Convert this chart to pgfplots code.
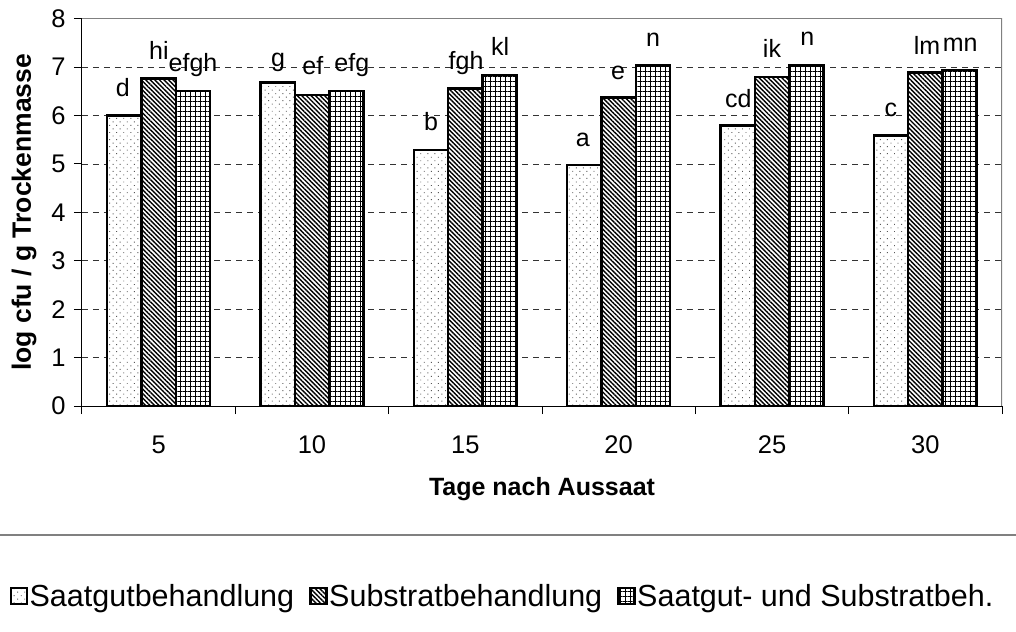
\documentclass[border=0pt]{standalone}
\usepackage{fontspec}
\setmainfont{Liberation Sans}
\usepackage{pgfplots}
\pgfplotsset{compat=1.18}
\usetikzlibrary{patterns.meta}
\definecolor{frame}{RGB}{128,128,128}

\begin{document}
\begin{tikzpicture}
\path[use as bounding box] (-82pt,-225pt) rectangle (934pt,406pt);
\begin{axis}[
  at={(0,0)}, anchor=south west,
  scale only axis, width=920pt, height=387.3pt,
  xmin=-0.5, xmax=5.5, ymin=0, ymax=8,
  axis x line*=bottom, axis y line*=left,
  axis line style={black, line width=1pt},
  tick align=outside,
  major tick length=8pt,
  tick style={black, line width=1pt},
  xtick={-0.5,0.5,...,5.5},
  x tick label as interval=true,
  xticklabels={5,10,15,20,25,30},
  ytick={0,1,...,8},
  ymajorgrids,
  grid style={black!80, line width=0.8pt, dash pattern=on 6pt off 5pt},
  /pgf/number format/assume math mode=true,
  tick label style={font=\fontsize{25.5}{26}\selectfont},
  xticklabel style={yshift=-18pt},
  yticklabel style={xshift=-5pt},
  xlabel={Tage nach Aussaat},
  ylabel={log cfu / g Trockenmasse},
  xlabel style={font=\fontsize{25}{25}\selectfont\bfseries, at={(axis description cs:0.5,-0.2143)}, anchor=center},
  ylabel style={font=\fontsize{26.5}{26}\selectfont\bfseries, at={(axis description cs:-0.0630,0.5)}, anchor=center},
  legend columns=3,
  legend style={draw=none, fill=none, at={(axis description cs:0.4576,-0.4906)}, anchor=center,
    font=\fontsize{30.5}{31}\selectfont,
    /tikz/every even column/.append style={column sep=14pt}},
  legend image code/.code={\draw[#1, line width=1pt] (0pt,-8pt) rectangle (16pt,8pt);},
]
\addplot[ybar, bar width=0.224, bar shift=-0.224, draw=black, line width=2.5pt,
  preaction={fill=white}, pattern={Dots[distance=5pt, radius=0.65pt, angle=45]}, pattern color=black!65]
  coordinates {(0,6.00) (1,6.68) (2,5.29) (3,4.98) (4,5.79) (5,5.59)};
\addlegendentry{Saatgutbehandlung}
\addplot[ybar, bar width=0.224, bar shift=0, draw=black, line width=2.5pt,
  preaction={fill=white}, pattern={Lines[angle=-45, distance=3.2pt, line width=1.4pt]}, pattern color=black]
  coordinates {(0,6.76) (1,6.42) (2,6.56) (3,6.37) (4,6.80) (5,6.89)};
\addlegendentry{Substratbehandlung}
\addplot[ybar, bar width=0.224, bar shift=0.224, draw=black, line width=2.5pt,
  preaction={fill=white}, pattern={Hatch[angle=0, distance=5pt, line width=0.9pt]}, pattern color=black]
  coordinates {(0,6.51) (1,6.51) (2,6.84) (3,7.03) (4,7.03) (5,6.94)};
\addlegendentry{Saatgut- und Substratbeh.}
\draw[frame, line width=1.5pt] (rel axis cs:0,1) -- (rel axis cs:1,1) -- (rel axis cs:1,0);
\begin{scope}[every node/.style={anchor=base, font=\fontsize{25}{25}\selectfont, inner sep=0pt}]
\node at (axis cs:-0.233,6.39) {d};
\node at (axis cs:0.002,7.16) {hi};
\node at (axis cs:0.224,6.91) {efgh};
\node at (axis cs:0.778,7.01) {g};
\node at (axis cs:1.006,6.84) {ef};
\node at (axis cs:1.26,6.90) {efg};
\node at (axis cs:1.777,5.70) {b};
\node at (axis cs:2.005,6.96) {fgh};
\node at (axis cs:2.227,7.23) {kl};
\node at (axis cs:2.767,5.37) {a};
\node at (axis cs:2.996,6.75) {e};
\node at (axis cs:3.224,7.42) {n};
\node at (axis cs:3.78,6.17) {cd};
\node at (axis cs:4.0,7.19) {ik};
\node at (axis cs:4.23,7.44) {n};
\node at (axis cs:4.776,5.98) {c};
\node at (axis cs:5.011,7.27) {lm};
\node at (axis cs:5.227,7.32) {mn};
\end{scope}
\end{axis}
\draw[frame, line width=1.5pt] (-82pt,-129pt) -- (934pt,-129pt);
\end{tikzpicture}
\end{document}
